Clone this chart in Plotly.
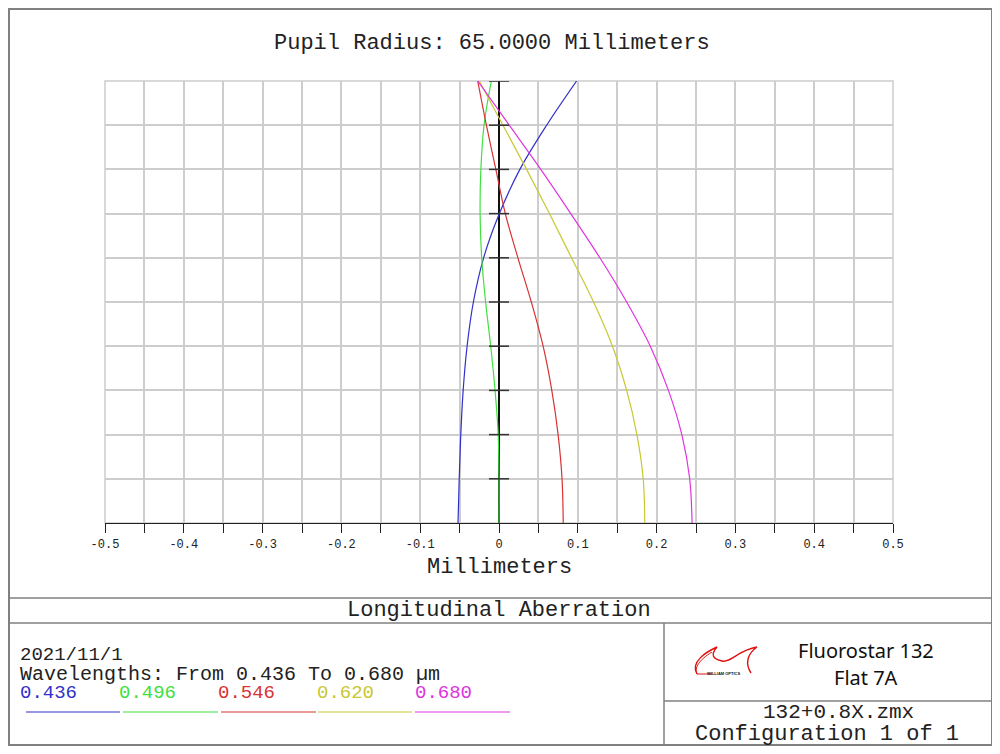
import plotly.graph_objects as go

# ---------------- data ----------------
pupil = [0.0, 0.1, 0.2, 0.3, 0.4, 0.5, 0.6, 0.7, 0.8, 0.9, 1.0]
x_0436 = [-0.052, -0.0505, -0.0485, -0.0455, -0.0405, -0.0325, -0.0195, 0.0005, 0.0265, 0.0605, 0.0985]
x_0496 = [0.0, 0.0, -0.001, -0.005, -0.0105, -0.017, -0.022, -0.024, -0.023, -0.019, -0.0097]
x_0546 = [0.0815, 0.080, 0.075, 0.067, 0.056, 0.041, 0.024, 0.008, -0.004, -0.016, -0.027]
x_0620 = [0.185, 0.183, 0.175, 0.162, 0.144, 0.120, 0.092, 0.064, 0.035, 0.005, -0.025]
x_0680 = [0.245, 0.242, 0.232, 0.215, 0.192, 0.162, 0.128, 0.091, 0.053, 0.013, -0.027]

wavelength_labels = ["0.436", "0.496", "0.546", "0.620", "0.680"]
series = [x_0436, x_0496, x_0546, x_0620, x_0680]
colors = ["#3030c8", "#40e040", "#d83232", "#c8c832", "#e034e0"]

x_tickvals = [-0.5, -0.4, -0.3, -0.2, -0.1, 0.0, 0.1, 0.2, 0.3, 0.4, 0.5]
x_ticktext = ["-0.5", "-0.4", "-0.3", "-0.2", "-0.1", "0", "0.1", "0.2", "0.3", "0.4", "0.5"]
y_ticks = [0.1, 0.2, 0.3, 0.4, 0.5, 0.6, 0.7, 0.8, 0.9, 1.0]

title_text = "Pupil Radius: 65.0000 Millimeters"
x_title = "Millimeters"
panel_title = "Longitudinal Aberration"
date_text = "2021/11/1"
wl_text = "Wavelengths: From 0.436 To 0.680 µm"
brand1 = "Fluorostar 132"
brand2 = "Flat 7A"
file_text = "132+0.8X.zmx"
config_text = "Configuration 1 of 1"

# page has an 8px body margin: size the figure so it fills the 1000x754 window exactly
OFF = 8
W, H = 1000 - OFF, 754 - OFF
MONO = "Liberation Mono, Courier New, monospace"


def px(x):
    return (x - OFF) / W


def py(y):
    return 1 - (y - OFF) / H


fig = go.Figure()
for xs, c, name in zip(series, colors, wavelength_labels):
    fig.add_trace(go.Scatter(x=xs, y=pupil, mode="lines", name=name,
                             line=dict(color=c, width=1.2, shape="spline", smoothing=1.0),
                             showlegend=False, hoverinfo="skip"))

GRID = "#cdcdcd"
BORDER = "#808080"

fig.update_layout(
    width=W, height=H, autosize=False,
    margin=dict(l=0, r=0, t=0, b=0, pad=0, autoexpand=False),
    paper_bgcolor="white", plot_bgcolor="white",
    xaxis=dict(domain=[px(105), px(893)], range=[-0.5, 0.5],
               tickmode="array", tickvals=x_tickvals, ticktext=x_ticktext,
               ticks="outside", ticklen=9, tickcolor="#222", tickwidth=1,
               tickfont=dict(family=MONO, size=12, color="#222"),
               showgrid=True, gridcolor=GRID, gridwidth=1.5,
               minor=dict(dtick=0.05, tick0=0, ticks="outside", ticklen=9,
                          tickcolor="#222", tickwidth=1, showgrid=True,
                          gridcolor=GRID, gridwidth=1.5),
               showline=True, linecolor="#222", linewidth=1.2,
               zeroline=True, zerolinecolor="#111", zerolinewidth=1.5,
               automargin=False, fixedrange=True),
    yaxis=dict(domain=[py(523), py(81)], range=[0, 1],
               tickmode="array", tickvals=[0] + y_ticks, showticklabels=False,
               ticks="", showgrid=True, gridcolor=GRID, gridwidth=1.5,
               zeroline=False, showline=False, automargin=False, fixedrange=True),
)

shapes = []
# plot frame (gray) below gridlines
shapes.append(dict(type="rect", xref="x domain", yref="y domain", x0=0, x1=1, y0=0, y1=1,
                   line=dict(color=GRID, width=1.5), layer="below"))
# tick marks on the central axis
half = 10 / 788
for yt in y_ticks:
    shapes.append(dict(type="line", xref="x", yref="y", x0=-half, x1=half, y0=yt, y1=yt,
                       line=dict(color="#333", width=1.5)))
# outer borders / dividers
shapes.append(dict(type="rect", xref="paper", yref="paper", x0=px(9), x1=px(992), y0=py(745), y1=py(9),
                   line=dict(color=BORDER, width=2)))
shapes.append(dict(type="line", xref="paper", yref="paper", x0=px(9), x1=px(992), y0=py(598), y1=py(598),
                   line=dict(color=BORDER, width=1.5)))
shapes.append(dict(type="line", xref="paper", yref="paper", x0=px(9), x1=px(992), y0=py(623), y1=py(623),
                   line=dict(color=BORDER, width=1.5)))
shapes.append(dict(type="line", xref="paper", yref="paper", x0=px(664), x1=px(664), y0=py(623), y1=py(745),
                   line=dict(color=BORDER, width=1.5)))
shapes.append(dict(type="line", xref="paper", yref="paper", x0=px(664), x1=px(992), y0=py(701), y1=py(701),
                   line=dict(color=BORDER, width=1.5)))
# legend colour bars
seg_x = [(26, 120), (123, 218), (221, 316), (318, 412), (415, 510)]
for (a, b), c in zip(seg_x, colors):
    shapes.append(dict(type="line", xref="paper", yref="paper", x0=px(a), x1=px(b), y0=py(712), y1=py(712),
                       line=dict(color=c, width=1.2)))


# logo swoosh
def P(x, y):
    return f"{px(x):.5f},{py(y):.5f}"


logo_path = ("M " + P(697, 674) + " C " + P(690, 662) + " " + P(706, 652) + " " + P(717, 647)
             + " C " + P(710, 655) + " " + P(713, 659) + " " + P(722, 661)
             + " C " + P(731, 663) + " " + P(738, 650) + " " + P(757, 647)
             + " C " + P(747, 654) + " " + P(745, 664) + " " + P(751, 673))
shapes.append(dict(type="path", xref="paper", yref="paper", path=logo_path,
                   line=dict(color="#e01010", width=1.4)))
logo_path2 = ("M " + P(697, 674) + " C " + P(694, 668) + " " + P(699, 660) + " " + P(712, 652))
shapes.append(dict(type="path", xref="paper", yref="paper", path=logo_path2,
                   line=dict(color="#e01010", width=1.0)))
shapes.append(dict(type="line", xref="paper", yref="paper", x0=px(697), x1=px(712), y0=py(674), y1=py(674),
                   line=dict(color="#e01010", width=1.0)))
fig.update_layout(shapes=shapes)

ann = []


def text(t, x, y, size, color="#222", family=MONO, xanchor="center"):
    ann.append(dict(text=t, x=px(x), y=py(y), xref="paper", yref="paper", showarrow=False,
                    xanchor=xanchor, yanchor="middle", borderpad=0,
                    font=dict(family=family, size=size, color=color)))


text(title_text, 492, 43, 22)
text(x_title, 499, 567, 22)
text(panel_title, 499, 610, 22)
text(date_text, 19, 655, 19, xanchor="left")
text(wl_text, 19, 674, 20, xanchor="left")
lab_x = [19, 118, 217, 316, 414]
for t, x, c in zip(wavelength_labels, lab_x, colors):
    text(t, x, 693, 19, color=c, xanchor="left")
text(brand1, 866, 650, 20, color="#111", family="Noto Sans, sans-serif")
text(brand2, 866, 677, 20, color="#111", family="Noto Sans, sans-serif")
text(file_text, 838, 712, 21)
text(config_text, 827, 734, 22)
text("<b>WILLIAM OPTICS</b>", 723, 673, 4, color="#111", family="Liberation Sans, sans-serif")
fig.update_layout(annotations=ann)

fig.write_html("out.html", config={"responsive": False})
